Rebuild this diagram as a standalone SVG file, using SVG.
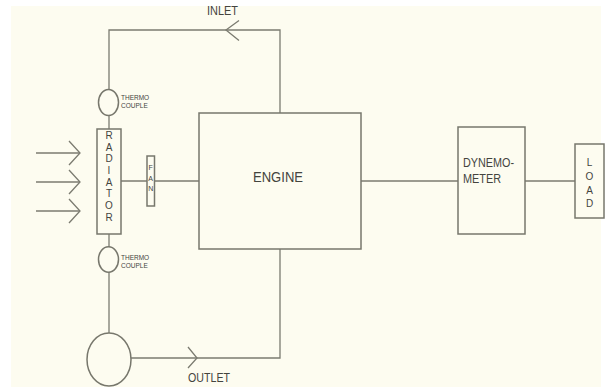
<svg xmlns="http://www.w3.org/2000/svg" width="609" height="387" viewBox="0 0 609 387">
<style>
.ln{stroke:#7b7b70;stroke-width:1.3;fill:none}
.bx{stroke:#77776c;stroke-width:1.5;fill:#fdfcf0}
.t{font-family:"Liberation Sans",Arial,sans-serif;fill:#44443e}
.v{font-family:"Liberation Sans",Arial,sans-serif;fill:#44443e;font-size:10px;text-anchor:middle}
.s{font-family:"Liberation Sans",Arial,sans-serif;fill:#44443e;font-size:6.5px}
</style>
<rect x="0" y="0" width="609" height="387" fill="#ffffff"/>
<rect x="11" y="6" width="590" height="381" fill="#fdfcf0"/>
<g id="connectors">
<polyline class="ln" points="109,90 109,30 280,30 280,113"/>
<polyline class="ln" points="239,20.5 226,30 239,40.5"/>
<line class="ln" x1="109" y1="116" x2="109" y2="129"/>
<line class="ln" x1="109" y1="234" x2="109" y2="247"/>
<line class="ln" x1="109" y1="272" x2="109" y2="333"/>
<polyline class="ln" points="131,358 280,358 280,249"/>
<polyline class="ln" points="188,347 197,358 188,368"/>
<line class="ln" x1="121" y1="181" x2="199" y2="181"/>
<line class="ln" x1="361" y1="181" x2="458" y2="181"/>
<line class="ln" x1="525" y1="181" x2="575" y2="181"/>
<line class="ln" x1="36" y1="153" x2="80" y2="153"/>
<polyline class="ln" points="69,141 80,153 69,165"/>
<line class="ln" x1="36" y1="182" x2="80" y2="182"/>
<polyline class="ln" points="69,170 80,182 69,194"/>
<line class="ln" x1="36" y1="211" x2="80" y2="211"/>
<polyline class="ln" points="69,199 80,211 69,223"/>
</g>
<g id="inlet-label"><text class="t" x="207" y="15" font-size="12" textLength="31" lengthAdjust="spacingAndGlyphs">INLET</text></g>
<g id="outlet-label"><text class="t" x="188" y="382" font-size="13" textLength="42" lengthAdjust="spacingAndGlyphs">OUTLET</text></g>
<g id="thermocouple1">
<ellipse class="bx" cx="108.5" cy="102.5" rx="10" ry="13"/>
<text class="s" x="121" y="100">THERMO</text>
<text class="s" x="121" y="108">COUPLE</text>
</g>
<g id="radiator">
<rect class="bx" x="97" y="129" width="24" height="105"/>
<text class="v" x="109" y="139">R</text>
<text class="v" x="109" y="151">A</text>
<text class="v" x="109" y="162">D</text>
<text class="v" x="109" y="174">I</text>
<text class="v" x="109" y="186">A</text>
<text class="v" x="109" y="197">T</text>
<text class="v" x="109" y="209">O</text>
<text class="v" x="109" y="221">R</text>
</g>
<g id="thermocouple2">
<ellipse class="bx" cx="108.5" cy="259.5" rx="10" ry="12.8"/>
<text class="s" x="121" y="260">THERMO</text>
<text class="s" x="121" y="268">COUPLE</text>
</g>
<g id="pump">
<ellipse class="bx" cx="109" cy="359.5" rx="22" ry="26.5"/>
</g>
<g id="fan">
<rect class="bx" x="147" y="156" width="7.5" height="50"/>
<text class="v" x="150.7" y="170" font-size="7" style="font-size:7px">F</text>
<text class="v" x="150.7" y="180.5" style="font-size:7px">A</text>
<text class="v" x="150.7" y="190.5" style="font-size:7px">N</text>
</g>
<g id="engine">
<rect class="bx" x="199" y="113" width="162" height="136"/>
<text class="t" x="253" y="182" font-size="14" textLength="50" lengthAdjust="spacingAndGlyphs">ENGINE</text>
</g>
<g id="dynamometer">
<rect class="bx" x="458" y="127" width="67" height="107"/>
<text class="t" x="463" y="167" font-size="12" textLength="51" lengthAdjust="spacingAndGlyphs">DYNEMO-</text>
<text class="t" x="463" y="183" font-size="12" textLength="38" lengthAdjust="spacingAndGlyphs">METER</text>
</g>
<g id="load">
<rect class="bx" x="575" y="144" width="29" height="74"/>
<text class="v" x="589.5" y="166">L</text>
<text class="v" x="589.5" y="180">O</text>
<text class="v" x="589.5" y="194">A</text>
<text class="v" x="589.5" y="207">D</text>
</g>
</svg>
